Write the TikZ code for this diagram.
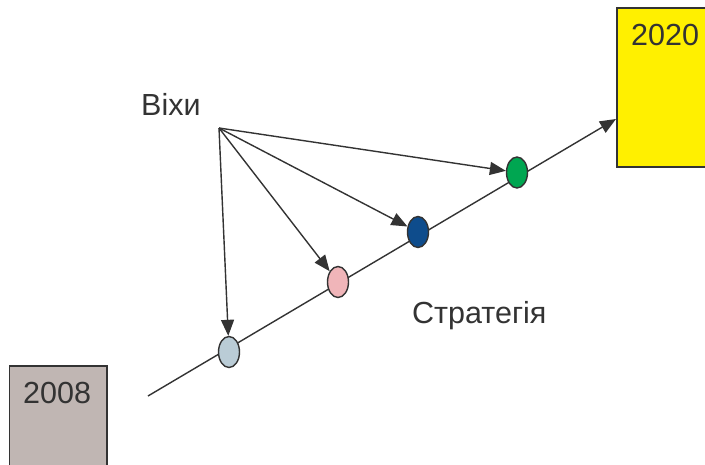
\documentclass[tikz,border=0pt]{standalone}
\usepackage{fontspec}
\setmainfont{Liberation Sans}
\usetikzlibrary{arrows.meta,shapes.geometric}
\definecolor{ink}{HTML}{333333}
\definecolor{boxgray}{HTML}{C0B6B3}
\definecolor{boxyellow}{HTML}{FFF000}
\definecolor{msgreen}{HTML}{00A651}
\definecolor{msblue}{HTML}{0E4C8C}
\definecolor{mspink}{HTML}{F0B5B9}
\definecolor{mslight}{HTML}{BACCD6}
\tikzset{
  label text/.style={font=\fontsize{30.5}{36}\selectfont, text=ink, inner sep=0pt},
  yearbox/.style={draw=ink, line width=1.4pt},
  milestone/.style={ellipse, draw=ink, line width=1.4pt, minimum width=21pt, minimum height=31pt, inner sep=0pt},
  pointer/.style={draw=ink, line width=1.4pt, -{Triangle[length=16pt,width=13pt]}}
}
\begin{document}
\begin{tikzpicture}[x=1pt,y=-1pt]
  \useasboundingbox (0,0) rectangle (705,464);
  \clip (0,0) rectangle (705,464);

  % period boxes
  \fill[white] (0,0) rectangle (705,464);
  \draw[yearbox, fill=boxgray] (9.5,366) rectangle (107,480);
  \draw[yearbox, fill=boxyellow] (617,8) rectangle (720,167);
  \node[label text, anchor=base west] (y2008) at (23,403) {2008};
  \node[label text, anchor=base west] (y2020) at (631,45) {2020};

  % strategy line
  \coordinate (start) at (148,396);
  \coordinate (tip) at (616,119);
  \draw[pointer] (start) -- (tip);

  % milestones along the line
  \node[milestone, fill=mslight] (m1) at (229,352) {};
  \node[milestone, fill=mspink]  (m2) at (338,282) {};
  \node[milestone, fill=msblue]  (m3) at (418,232) {};
  \node[milestone, fill=msgreen] (m4) at (517,172.5) {};

  % labels
  \node[label text, anchor=base west] (vikhy) at (141,115) {Віхи};
  \node[label text, anchor=base west] (strat) at (412,323) {Стратегія};

  % pointers from the milestone label
  \coordinate (hub) at (219,128);
  \draw[pointer] (hub) -- (m1);
  \draw[pointer] (hub) -- (m2);
  \draw[pointer] (hub) -- (m3);
  \draw[pointer] (hub) -- (m4);
\end{tikzpicture}
\end{document}
